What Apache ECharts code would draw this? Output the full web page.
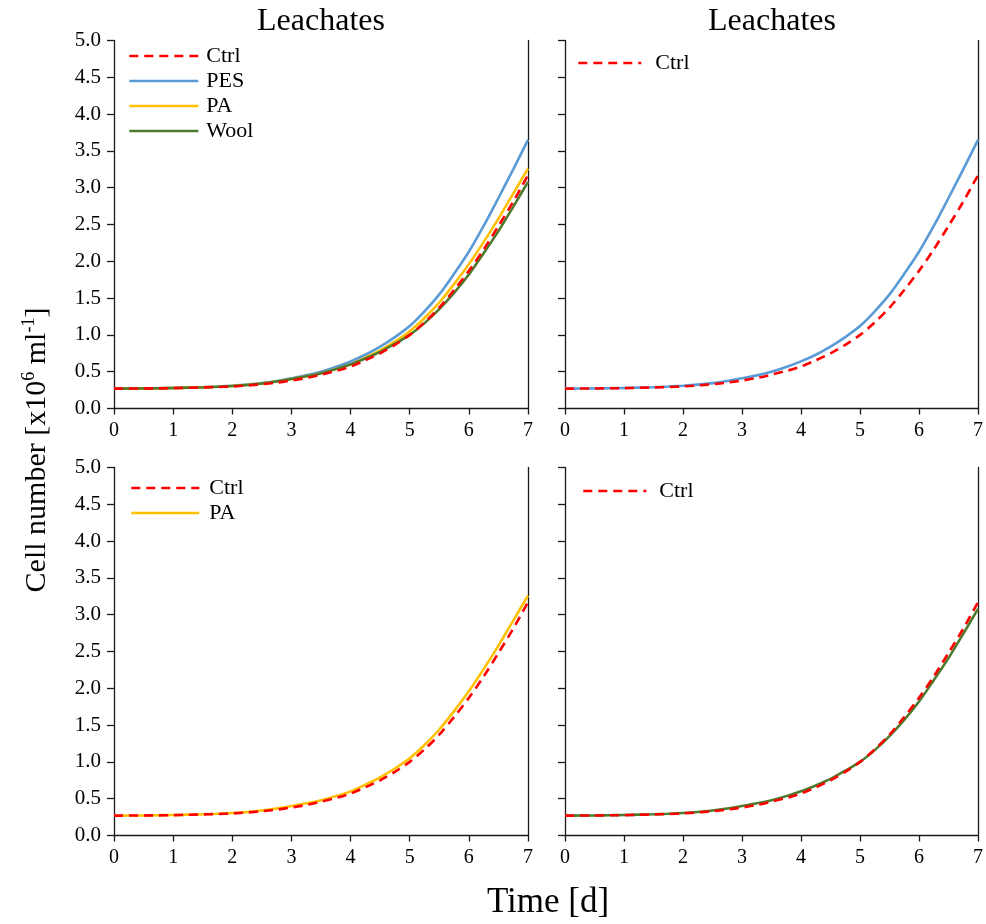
<!DOCTYPE html>
<html>
<head>
<meta charset="utf-8">
<title>Leachates</title>
<script src="https://cdn.jsdelivr.net/npm/echarts@6/dist/echarts.min.js"></script>
<style>
  html, body { margin: 0; padding: 0; background: #fff; }
  #chart { width: 986px; height: 924px; }
</style>
</head>
<body>
<div id="chart"></div>
<script>
// Growth curves: cell number (x10^6 per ml) against time in days, read every quarter day
const days = [0, 0.25, 0.5, 0.75, 1, 1.25, 1.5, 1.75, 2, 2.25, 2.5, 2.75, 3, 3.25, 3.5, 3.75,
              4, 4.25, 4.5, 4.75, 5, 5.25, 5.5, 5.75, 6, 6.25, 6.5, 6.75, 7];
const ctrl = [0.27, 0.271, 0.272, 0.274, 0.277, 0.281, 0.286, 0.292, 0.30, 0.313, 0.33, 0.352, 0.38, 0.415, 0.46, 0.51,
              0.57, 0.655, 0.75, 0.865, 1.00, 1.17, 1.37, 1.61, 1.87, 2.16, 2.48, 2.81, 3.17];
const pes  = [0.27, 0.271, 0.273, 0.276, 0.279, 0.284, 0.289, 0.298, 0.31, 0.325, 0.345, 0.374, 0.41, 0.45, 0.50, 0.565,
              0.64, 0.73, 0.84, 0.97, 1.12, 1.32, 1.55, 1.83, 2.13, 2.48, 2.86, 3.25, 3.65];
const pa   = [0.27, 0.271, 0.272, 0.275, 0.278, 0.283, 0.288, 0.295, 0.305, 0.32, 0.34, 0.367, 0.40, 0.437, 0.48, 0.535,
              0.60, 0.69, 0.79, 0.91, 1.05, 1.23, 1.44, 1.69, 1.96, 2.26, 2.58, 2.92, 3.26];
const wool = [0.27, 0.271, 0.272, 0.275, 0.278, 0.283, 0.288, 0.295, 0.305, 0.32, 0.34, 0.367, 0.40, 0.437, 0.48, 0.535,
              0.60, 0.68, 0.77, 0.88, 1.00, 1.16, 1.35, 1.57, 1.82, 2.11, 2.41, 2.74, 3.08];

const xTicks = [0, 1, 2, 3, 4, 5, 6, 7];
const yTicks = [0, 0.5, 1, 1.5, 2, 2.5, 3, 3.5, 4, 4.5, 5];
const panelTitle = 'Leachates';

const seriesDefs = {
  Ctrl: { values: ctrl, color: '#ff0000', dashed: true },
  PES:  { values: pes,  color: '#5b9bd5', dashed: false },
  PA:   { values: pa,   color: '#ffc000', dashed: false },
  Wool: { values: wool, color: '#4e7a2e', dashed: false }
};

// four panels: which series each one shows and where its legend sits
const panels = [
  { names: ['PES', 'PA', 'Wool', 'Ctrl'], legend: ['Ctrl', 'PES', 'PA', 'Wool'], left: 128, top: 45,  yLabels: true,  legW: 69, gap: 3 },
  { names: ['PES', 'Ctrl'],               legend: ['Ctrl'],                      left: 577, top: 52,  yLabels: false, legW: 63, gap: 9 },
  { names: ['PA', 'Ctrl'],                legend: ['Ctrl', 'PA'],                left: 130, top: 477, yLabels: true,  legW: 68, gap: 5 },
  { names: ['Wool', 'Ctrl'],              legend: ['Ctrl'],                      left: 582, top: 480, yLabels: false, legW: 63, gap: 8 }
];
const gridBoxes = [
  { left: 114, top: 40.5 }, { left: 565, top: 40.5 },
  { left: 114, top: 467.5 }, { left: 565, top: 467.5 }
];
const gridW = 414, gridH = 368;

const font = '"Liberation Serif", "Times New Roman", serif';
const axisColor = '#1a1a1a';

const grids = [], xAxes = [], yAxes = [], series = [], legends = [];

panels.forEach((p, gi) => {
  const box = gridBoxes[gi];
  grids.push({ left: box.left, top: box.top, width: gridW, height: gridH, containLabel: false });
  xAxes.push({
    gridIndex: gi, type: 'value', min: 0, max: 7, interval: 1,
    axisLine: { show: true, onZero: false, lineStyle: { color: axisColor, width: 1.3 } },
    axisTick: { show: true, inside: false, length: 6, lineStyle: { color: axisColor, width: 1.3 } },
    axisLabel: { show: true, margin: 12, fontFamily: font, fontSize: 20, color: '#000',
      formatter: v => xTicks.includes(v) ? String(v) : '' },
    splitLine: { show: false }
  });
  yAxes.push({
    gridIndex: gi, type: 'value', min: 0, max: 5, interval: 0.5, position: 'left',
    axisLine: { show: true, onZero: false, lineStyle: { color: axisColor, width: 1.3 } },
    axisTick: { show: true, inside: false, length: 7, lineStyle: { color: axisColor, width: 1.3 } },
    axisLabel: { show: p.yLabels, margin: 13, fontFamily: font, fontSize: 21, color: '#000',
      formatter: v => yTicks.some(t => Math.abs(t - v) < 1e-9) ? v.toFixed(1) : '' },
    splitLine: { show: false }
  });
  // right-hand frame line of the panel
  yAxes.push({
    gridIndex: gi, type: 'value', min: 0, max: 5, interval: 0.5, position: 'right',
    axisLine: { show: true, onZero: false, lineStyle: { color: axisColor, width: 1.3 } },
    axisTick: { show: false }, axisLabel: { show: false }, splitLine: { show: false }
  });
  const yIndex = gi * 2;
  p.names.forEach(name => {
    const d = seriesDefs[name];
    series.push({
      name: name, type: 'line', xAxisIndex: gi, yAxisIndex: yIndex,
      data: days.map((t, i) => [t, d.values[i]]),
      smooth: 0.3, symbol: 'none', showSymbol: false,
      z: name === 'Ctrl' ? 5 : 3,
      lineStyle: { color: d.color, width: 2.6, type: d.dashed ? [9, 6] : 'solid' },
      itemStyle: { color: d.color },
      emphasis: { disabled: true }
    });
  });
  legends.push({
    data: p.legend, left: p.left, top: p.top, orient: 'vertical', padding: 0,
    itemWidth: p.legW, itemHeight: 14, itemGap: 3,
    selectedMode: false,
    itemStyle: { opacity: 0 },
    lineStyle: { width: 2.6 },
    textStyle: { fontFamily: font, fontSize: 22, color: '#000', lineHeight: 20, padding: [0, 0, 0, p.gap] }
  });
});

const supStyle = { fontFamily: font, fontSize: 18, color: '#000', verticalAlign: 'top', lineHeight: 30, padding: [0, 0, 10, 0] };

const chart = echarts.init(document.getElementById('chart'), null, { renderer: 'canvas' });
chart.setOption({
  animation: false,
  backgroundColor: '#fff',
  grid: grids, xAxis: xAxes, yAxis: yAxes, series: series, legend: legends,
  graphic: [
    { type: 'text', x: 114 + gridW / 2, y: 22, style: { text: panelTitle, fontFamily: font, fontSize: 32, fill: '#000', align: 'center', verticalAlign: 'middle' } },
    { type: 'text', x: 565 + gridW / 2, y: 22, style: { text: panelTitle, fontFamily: font, fontSize: 32, fill: '#000', align: 'center', verticalAlign: 'middle' } },
    { type: 'text', x: 548, y: 903, style: { text: 'Time [d]', fontFamily: font, fontSize: 35, fill: '#000', align: 'center', verticalAlign: 'middle' } },
    { type: 'text', x: 37, y: 450, rotation: Math.PI / 2,
      style: {
        text: '{a|Cell number [x10}{s|6}{a| ml}{s|-1}{a|]}',
        align: 'center', verticalAlign: 'middle',
        rich: {
          a: { fontFamily: font, fontSize: 30, color: '#000', lineHeight: 34 },
          s: supStyle
        }
      } }
  ]
});
</script>
</body>
</html>
